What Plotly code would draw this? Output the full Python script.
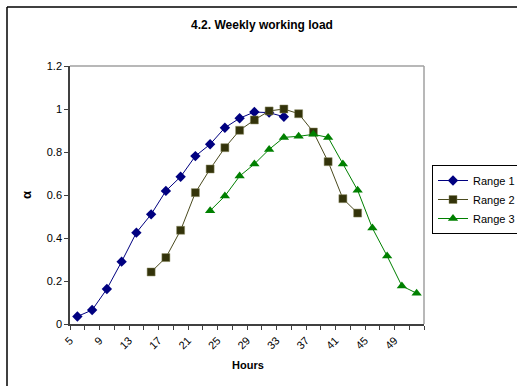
import plotly.graph_objects as go

hours_r1 = [5, 7, 9, 11, 13, 15, 17, 19, 21, 23, 25, 27, 29, 31, 33]
range1 = [0.035, 0.065, 0.163, 0.29, 0.425, 0.51, 0.619, 0.685, 0.781, 0.836, 0.913, 0.957, 0.986, 0.983, 0.964]

hours_r2 = [15, 17, 19, 21, 23, 25, 27, 29, 31, 33, 35, 37, 39, 41, 43]
range2 = [0.242, 0.309, 0.436, 0.611, 0.721, 0.82, 0.901, 0.949, 0.991, 1.0, 0.978, 0.893, 0.755, 0.583, 0.516]

hours_r3 = [23, 25, 27, 29, 31, 33, 35, 37, 39, 41, 43, 45, 47, 49, 51]
range3 = [0.527, 0.595, 0.688, 0.744, 0.812, 0.868, 0.873, 0.882, 0.868, 0.744, 0.622, 0.446, 0.316, 0.177, 0.143]

# category boundaries (tick marks) and their labels
tick_positions = list(range(4, 53, 2))
category_labels = ["5", "9", "13", "17", "21", "25", "29", "33", "37", "41", "45", "49"]

ticktext = []
k = 0
for i, t in enumerate(tick_positions):
    if i % 2 == 0 and k < len(category_labels):
        ticktext.append(category_labels[k]); k += 1
    else:
        ticktext.append("")

FONT = "Arial, Liberation Sans, sans-serif"

fig = go.Figure()
fig.add_trace(go.Scatter(x=hours_r1, y=range1, mode="lines+markers", name="Range 1",
                         line=dict(color="#000080", width=1),
                         marker=dict(symbol="diamond", size=8, color="#000080")))
fig.add_trace(go.Scatter(x=hours_r2, y=range2, mode="lines+markers", name="Range 2",
                         line=dict(color="#4a4a1e", width=1),
                         marker=dict(symbol="square", size=8, color="#33330a",
                                     line=dict(color="#8a8a60", width=0.5))))
fig.add_trace(go.Scatter(x=hours_r3, y=range3, mode="lines+markers", name="Range 3",
                         line=dict(color="#008000", width=1),
                         marker=dict(symbol="triangle-up", size=9, color="#008000")))

L, R, T, B = 70, 93, 66, 62
W, H = 517, 386
pw, ph = W - L - R, H - T - B

def px_x(x):
    return (x - L) / pw

def px_y(y):
    return (H - B - y) / ph

fig.update_layout(
    width=W, height=H,
    margin=dict(l=L, r=R, t=T, b=B, autoexpand=False),
    paper_bgcolor="white", plot_bgcolor="white",
    font=dict(family=FONT, size=11, color="black"),
    showlegend=True,
    legend=dict(x=px_x(432), y=px_y(165), xanchor="left", yanchor="top",
                bordercolor="black", borderwidth=1, bgcolor="white",
                font=dict(size=11), tracegroupgap=0, itemwidth=30),
    title=dict(text="<b>4.2. Weekly working load</b>", x=px_x(262), xref="paper",
               xanchor="center", y=1 - 25 / H, yref="container", yanchor="middle",
               font=dict(size=12, family=FONT)),
    xaxis=dict(range=[4, 52], tickmode="array", tickvals=tick_positions, ticktext=ticktext,
               tickangle=-45, ticks="outside", ticklen=4, tickcolor="#404040",
               showline=True, linecolor="#404040", linewidth=1.5, showgrid=False,
               zeroline=False, tickfont=dict(size=11)),
    yaxis=dict(range=[0, 1.2], tickvals=[0, 0.2, 0.4, 0.6, 0.8, 1.0, 1.2],
               ticktext=["0", "0.2", "0.4", "0.6", "0.8", "1", "1.2"],
               ticks="outside", ticklen=4, tickcolor="#404040",
               showline=True, linecolor="#404040", linewidth=1.5, showgrid=False,
               zeroline=False, tickfont=dict(size=11)),
    shapes=[
        dict(type="line", xref="paper", yref="paper", x0=0, x1=1, y0=1, y1=1,
             line=dict(color="#a0a0a0", width=1.5)),
        dict(type="line", xref="paper", yref="paper", x0=1, x1=1, y0=0, y1=1,
             line=dict(color="#a0a0a0", width=1.5)),
        dict(type="line", xref="paper", yref="paper", x0=px_x(7), x1=px_x(530),
             y0=px_y(7), y1=px_y(7), line=dict(color="black", width=1.5)),
        dict(type="line", xref="paper", yref="paper", x0=px_x(7), x1=px_x(7),
             y0=px_y(7), y1=px_y(400), line=dict(color="black", width=1.5)),
    ],
    annotations=[
        dict(text="<b>Hours</b>", xref="paper", yref="paper", x=px_x(248), y=px_y(365),
             xanchor="center", yanchor="middle", showarrow=False, font=dict(size=11)),
        dict(text="<b>α</b>", xref="paper", yref="paper", x=px_x(26), y=px_y(195),
             xanchor="center", yanchor="middle", showarrow=False, textangle=-90,
             font=dict(size=13)),
    ],
)

fig.write_html("out.html")
